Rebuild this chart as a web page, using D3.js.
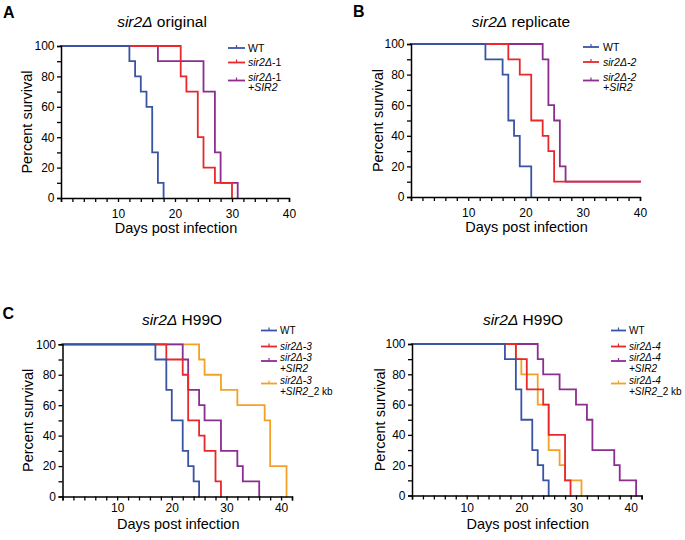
<!DOCTYPE html>
<html>
<head>
<meta charset="utf-8">
<script src="https://cdn.jsdelivr.net/npm/d3@7"></script>
<style>
  html, body { margin: 0; padding: 0; background: #fff; }
  svg { display: block; font-family: "Liberation Sans", Arial, Helvetica, sans-serif; }
</style>
</head>
<body>
<svg id="chart" width="685" height="540"></svg>
<script>
// ---------------- DATA ----------------
// Panel A: sir2Δ original
const aWTDays   = [0, 12, 13, 14, 15, 16, 17, 18];
const aWTSurv   = [100, 90, 80, 70, 60, 30, 10, 0];
const aMutDays  = [0, 21, 22, 24, 25, 27, 30];
const aMutSurv  = [100, 80, 70, 40, 20, 10, 0];
const aCompDays = [0, 17, 25, 27, 28, 31];
const aCompSurv = [100, 90, 70, 30, 10, 0];

// Panel B: sir2Δ replicate
const bWTDays   = [0, 13, 16, 17, 18, 19, 21];
const bWTSurv   = [100, 90, 80, 50, 40, 20, 0];
const bMutDays  = [0, 17, 19, 21, 23, 24, 25, 40];
const bMutSurv  = [100, 90, 80, 50, 40, 30, 10, 10];
const bCompDays = [0, 23, 24, 25, 26, 27, 40];
const bCompSurv = [100, 90, 60, 50, 20, 10, 10];

// Panel C: sir2Δ H99O (strain 3)
const cWTDays    = [0, 17, 19, 20, 22, 23, 24, 25];
const cWTSurv    = [100, 90, 70, 50, 30, 20, 10, 0];
const cMutDays   = [0, 19, 22, 23, 25, 26, 28, 29];
const cMutSurv   = [100, 90, 80, 50, 40, 30, 10, 0];
const cCompDays  = [0, 22, 23, 25, 26, 29, 32, 33, 36];
const cCompSurv  = [100, 90, 70, 60, 50, 30, 20, 10, 0];
const cComp2Days = [0, 25, 26, 29, 32, 37, 38, 41];
const cComp2Surv = [100, 90, 80, 70, 60, 50, 20, 0];

// Panel D: sir2Δ H99O (strain 4)
const dWTDays    = [0, 17, 19, 20, 22, 23, 24, 25];
const dWTSurv    = [100, 90, 70, 50, 30, 20, 10, 0];
const dMutDays   = [0, 19, 21, 24, 25, 28, 29];
const dMutSurv   = [100, 90, 70, 60, 40, 10, 0];
const dCompDays  = [0, 23, 24, 27, 30, 32, 33, 37, 38, 41];
const dCompSurv  = [100, 90, 80, 70, 60, 50, 30, 20, 10, 0];
const dComp2Days = [0, 19, 20, 23, 25, 27, 28, 31];
const dComp2Surv = [100, 90, 80, 60, 30, 20, 10, 0];

// Axis ticks / labels
const yTickValues  = [0, 10, 20, 30, 40, 50, 60, 70, 80, 90, 100];
const yTickLabels  = [0, 20, 40, 60, 80, 100];
const xTickLabels  = [10, 20, 30, 40];
const xMaxAB = 40;
const xMaxCD = 42;

// Text
const panelLetters = ["A", "B", "C", ""];
const titleRest    = [" original", " replicate", " H99O", " H99O"];
const yAxisTitle   = "Percent survival";
const xAxisTitle   = "Days post infection";
// legend labels: array of lines, each line array of [text, italic]
const legendA = [
  [[["WT", false]]],
  [[["sir2Δ", true], ["-1", false]]],
  [[["sir2Δ", true], ["-1", false]], [["+SIR2", true]]]
];
const legendB = [
  [[["WT", false]]],
  [[["sir2Δ-2", true]]],
  [[["sir2Δ-2", true]], [["+SIR2", true]]]
];
const legendC = [
  [[["WT", false]]],
  [[["sir2Δ-3", true]]],
  [[["sir2Δ-3", true]], [["+SIR2", true]]],
  [[["sir2Δ-3", true]], [["+SIR2", true], ["_2 kb", false]]]
];
const legendD = [
  [[["WT", false]]],
  [[["sir2Δ-4", true]]],
  [[["sir2Δ-4", true]], [["+SIR2", true]]],
  [[["sir2Δ-4", true]], [["+SIR2", true], ["_2 kb", false]]]
];

// ---------------- STYLE / LAYOUT ----------------
const colors = ["#3a54a5", "#e8282b", "#8c2d90", "#f5a125"];

const panels = [
  { letter: panelLetters[0], letterX: 3, letterY: 17.5, title: titleRest[0], titleX: 162, titleY: 27,
    left: 61, right: 289, top: 46, bottom: 198, xMax: xMaxAB,
    yTitleX: 31.5, xLabelY: 218, xTitleY: 233,
    series: [[aWTDays, aWTSurv], [aMutDays, aMutSurv], [aCompDays, aCompSurv]],
    legend: legendA, legLineX: 228, legLineW: 17, legTextX: 248, legRows: [48, 62.5, 77],
    legGap: 10.5, legFont: 10.5 },
  { letter: panelLetters[1], letterX: 353, letterY: 17, title: titleRest[1], titleX: 521, titleY: 27,
    left: 411, right: 640, top: 44, bottom: 197, xMax: xMaxAB,
    yTitleX: 383, xLabelY: 217, xTitleY: 232,
    series: [[bWTDays, bWTSurv], [bMutDays, bMutSurv], [bCompDays, bCompSurv]],
    legend: legendB, legLineX: 583, legLineW: 16, legTextX: 603, legRows: [47, 62, 77],
    legGap: 10.5, legFont: 10.5 },
  { letter: panelLetters[2], letterX: 2.5, letterY: 318.5, title: titleRest[2], titleX: 182, titleY: 325,
    left: 62.5, right: 292, top: 344.3, bottom: 496.5, xMax: xMaxCD,
    yTitleX: 32.5, xLabelY: 512, xTitleY: 528.5,
    series: [[cWTDays, cWTSurv], [cMutDays, cMutSurv], [cCompDays, cCompSurv], [cComp2Days, cComp2Surv]],
    legend: legendC, legLineX: 261, legLineW: 16, legTextX: 280, legRows: [330.5, 346.5, 357.5, 380],
    legGap: 11, legFont: 10 },
  { letter: panelLetters[3], letterX: 0, letterY: 0, title: titleRest[3], titleX: 523, titleY: 325,
    left: 412, right: 641.6, top: 344, bottom: 495.5, xMax: xMaxCD,
    yTitleX: 385, xLabelY: 512, xTitleY: 528.5,
    series: [[dWTDays, dWTSurv], [dMutDays, dMutSurv], [dCompDays, dCompSurv], [dComp2Days, dComp2Surv]],
    legend: legendD, legLineX: 611, legLineW: 15, legTextX: 629, legRows: [330.5, 346.5, 357.5, 380],
    legGap: 11, legFont: 10 }
];

const svg = d3.select("#chart");

panels.forEach(p => {
  const g = svg.append("g");
  const x = d3.scaleLinear().domain([0, p.xMax]).range([p.left, p.right]);
  const y = d3.scaleLinear().domain([0, 100]).range([p.bottom, p.top]);

  // panel letter
  if (p.letter) {
    g.append("text").attr("x", p.letterX).attr("y", p.letterY)
      .attr("font-size", 16).attr("font-weight", "bold").attr("fill", "#000").text(p.letter);
  }
  // title
  const t = g.append("text").attr("x", p.titleX).attr("y", p.titleY)
    .attr("text-anchor", "middle").attr("font-size", 15.5).attr("fill", "#000");
  t.append("tspan").attr("font-style", "italic").text("sir2Δ");
  t.append("tspan").text(p.title);

  // step curves (drawn last series first so WT is on top)
  const line = d3.line().x(d => x(d[0])).y(d => y(d[1])).curve(d3.curveStepAfter);
  for (let i = p.series.length - 1; i >= 0; i--) {
    const [days, surv] = p.series[i];
    const pts = days.map((d, k) => [d, surv[k]]);
    g.append("path").attr("d", line(pts)).attr("fill", "none")
      .attr("stroke", colors[i]).attr("stroke-width", 1.8)
      .attr("stroke-linejoin", "miter").attr("stroke-linecap", "square");
  }

  // y axis
  const yAxis = d3.axisLeft(y).tickValues(yTickValues).tickSize(4)
    .tickFormat(d => yTickLabels.includes(d) ? d : "");
  const ya = g.append("g").attr("transform", `translate(${p.left},0)`).call(yAxis);
  // x axis
  const xTicks = d3.range(0, p.xMax + 1, 2);
  const xAxis = d3.axisBottom(x).tickValues(xTicks).tickSize(4)
    .tickFormat(d => xTickLabels.includes(d) ? d : "");
  const xa = g.append("g").attr("transform", `translate(0,${p.bottom})`).call(xAxis);

  [ya, xa].forEach(a => {
    a.select(".domain").attr("stroke", "#000").attr("stroke-width", 1.5);
    a.selectAll(".tick line").attr("stroke", "#000").attr("stroke-width", 1.3);
    a.selectAll(".tick text").attr("font-size", 12).attr("fill", "#000")
      .attr("font-family", "'Liberation Sans', Arial, sans-serif");
  });
  ya.selectAll(".tick text").attr("x", -6.5);
  xa.selectAll(".tick text").attr("y", null).attr("dy", null)
    .attr("transform", `translate(0,${p.xLabelY - p.bottom})`);

  // axis titles
  g.append("text").attr("transform", `translate(${p.yTitleX},${(p.top + p.bottom) / 2}) rotate(-90)`)
    .attr("text-anchor", "middle").attr("font-size", 14.5).attr("fill", "#000").text(yAxisTitle);
  g.append("text").attr("x", (p.left + p.right) / 2 + 1).attr("y", p.xTitleY)
    .attr("text-anchor", "middle").attr("font-size", 14.5).attr("fill", "#000").text(xAxisTitle);

  // legend
  p.legend.forEach((lines, i) => {
    const rowY = p.legRows[i];
    const lineY = lines.length > 1 ? rowY + 3.5 : rowY;
    g.append("line").attr("x1", p.legLineX).attr("x2", p.legLineX + p.legLineW)
      .attr("y1", lineY).attr("y2", lineY).attr("stroke", colors[i]).attr("stroke-width", 1.8);
    g.append("line").attr("x1", p.legLineX + p.legLineW / 2).attr("x2", p.legLineX + p.legLineW / 2)
      .attr("y1", lineY - 3).attr("y2", lineY).attr("stroke", colors[i]).attr("stroke-width", 1.2);
    const tx = g.append("text").attr("x", p.legTextX).attr("y", rowY + 3.5)
      .attr("font-size", p.legFont).attr("fill", "#000");
    lines.forEach((segs, li) => {
      segs.forEach(([s, it], si) => {
        const ts = tx.append("tspan").attr("font-style", it ? "italic" : "normal").text(s);
        if (si === 0 && li > 0) ts.attr("x", p.legTextX).attr("dy", p.legGap);
      });
    });
  });
});
</script>
</body>
</html>
